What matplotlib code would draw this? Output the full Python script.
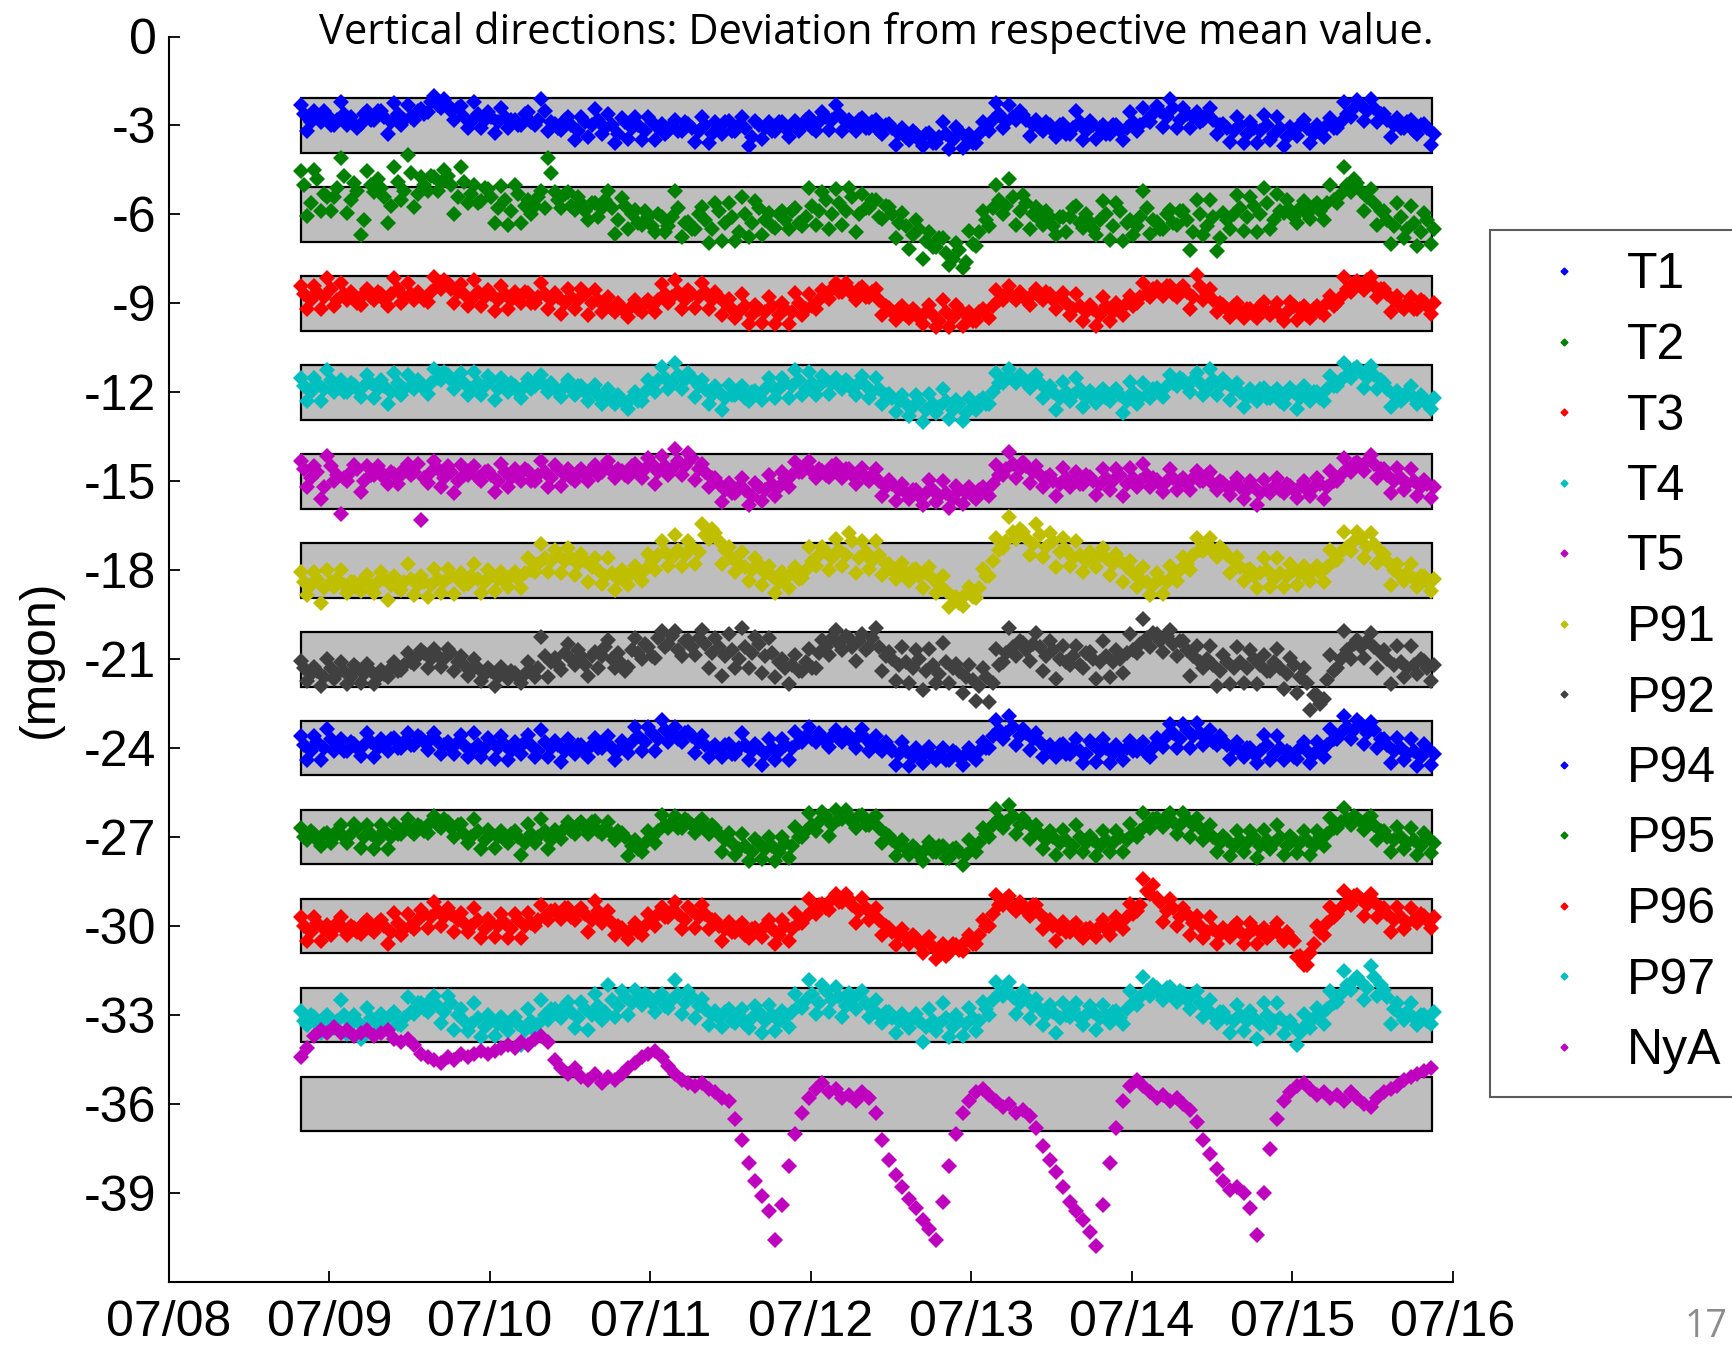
import numpy as np
import matplotlib
matplotlib.use("Agg")
import matplotlib.pyplot as plt
from matplotlib.patches import Rectangle
from matplotlib.lines import Line2D

# ---------------- data (mgon) ----------------
# *_edge: readings on the full hour (points towards the edges of each cloud)
# *_mid : readings on the half hour (points near the middle of each cloud)
start_day = 0.82          # days after 07/08 00:00 of first sample
hours_per_day = 24.0
band_start, band_end = 0.822, 7.87
band_half = 0.92

names = ["T1", "T2", "T3", "T4", "T5", "P91", "P92", "P94", "P95", "P96", "P97", "NyA"]
mean_levels = [-3, -6, -9, -12, -15, -18, -21, -24, -27, -30, -33, -36]
colors = ["#0000FF", "#008000", "#FF0000", "#00BFBF", "#BF00BF", "#BFBF00", "#404040",
          "#0000FF", "#008000", "#FF0000", "#00BFBF", "#BF00BF"]

x_ticks = [0, 1, 2, 3, 4, 5, 6, 7, 8]
x_ticklabels = ["07/08", "07/09", "07/10", "07/11", "07/12", "07/13", "07/14", "07/15", "07/16"]
y_ticks = [0, -3, -6, -9, -12, -15, -18, -21, -24, -27, -30, -33, -36, -39]

T1_edge = [-2.3, -3.2, -2.5, -2.9, -2.65, -3.0, -2.2, -3.0, -2.95, -2.95,
      -2.5, -2.8, -2.5, -3.3, -2.25, -3.0, -2.3, -2.8, -2.45, -2.55,
      -2.0, -2.4, -2.3, -2.8, -2.35, -3.1, -2.2, -3.1, -2.55, -3.25,
      -2.4, -3.1, -2.8, -3.0, -2.55, -3.0, -2.1, -3.2, -2.95, -3.15,
      -2.7, -3.5, -2.7, -3.4, -2.45, -3.3, -2.6, -3.6, -2.75, -3.45,
      -2.7, -3.5, -2.7, -3.5, -2.95, -3.2, -2.8, -3.2, -2.95, -3.55,
      -2.7, -3.6, -2.9, -3.3, -2.85, -3.2, -2.7, -3.7, -2.85, -3.45,
      -2.9, -3.2, -2.9, -3.4, -2.85, -3.0, -2.7, -3.2, -2.55, -3.15,
      -2.3, -3.2, -2.8, -3.2, -2.75, -3.1, -2.8, -3.3, -2.95, -3.65,
      -3.1, -3.5, -3.3, -3.7, -3.25, -3.6, -2.9, -3.8, -3.05, -3.75,
      -3.3, -3.6, -2.9, -3.2, -2.25, -3.1, -2.3, -2.8, -2.65, -3.35,
      -2.8, -3.2, -3.0, -3.4, -2.95, -3.3, -2.5, -3.5, -2.85, -3.45,
      -3.0, -3.3, -3.0, -3.5, -2.55, -3.2, -2.4, -2.9, -2.35, -3.05,
      -2.1, -3.1, -2.4, -3.1, -2.55, -2.8, -2.4, -3.3, -2.95, -3.55,
      -2.7, -3.6, -2.9, -3.6, -2.65, -3.5, -2.7, -3.7, -3.05, -3.35,
      -2.8, -3.6, -3.0, -3.4, -2.75, -3.1, -2.2, -2.7, -2.15, -2.85,
      -2.1, -2.9, -2.6, -3.4, -2.75, -3.1, -2.8, -3.3, -2.95, -3.65]

T1_mid = [-2.6, -2.9, -2.7, -2.5, -3.0, -2.8, -2.6, -2.7, -3.1, -2.6,
      -2.8, -2.5, -2.7, -2.9, -2.6, -2.8, -2.7, -2.5, -2.6, -2.2,
      -2.3, -2.1, -2.5, -2.4, -2.7, -2.9, -2.6, -2.8, -2.7, -2.9,
      -2.7, -2.8, -3.0, -2.6, -2.9, -2.8, -2.5, -2.9, -3.1, -2.8,
      -3.0, -3.2, -2.9, -3.0, -2.8, -3.1, -3.0, -3.3, -2.9, -3.1,
      -3.0, -3.2, -2.9, -3.1, -3.3, -3.0, -3.2, -2.9, -3.1, -3.2,
      -3.0, -3.3, -3.1, -2.9, -3.2, -3.0, -3.1, -3.4, -3.0, -3.1,
      -3.2, -2.9, -3.1, -3.0, -3.2, -2.8, -3.1, -2.9, -2.7, -2.8,
      -2.6, -2.9, -3.0, -2.8, -3.1, -2.9, -3.2, -3.0, -3.1, -3.3,
      -3.4, -3.2, -3.5, -3.3, -3.6, -3.4, -3.3, -3.5, -3.2, -3.4,
      -3.6, -3.3, -3.1, -2.8, -2.6, -2.9, -2.7, -2.5, -2.8, -3.0,
      -3.1, -2.9, -3.2, -3.0, -3.3, -3.1, -2.9, -3.2, -3.0, -3.1,
      -3.3, -3.0, -3.2, -3.1, -2.9, -3.0, -2.8, -2.6, -2.5, -2.7,
      -2.4, -2.8, -2.6, -2.7, -2.9, -2.6, -2.8, -3.0, -3.1, -3.2,
      -3.0, -3.3, -3.1, -3.2, -3.0, -3.3, -3.1, -3.4, -3.2, -3.0,
      -3.1, -3.3, -3.2, -3.0, -3.1, -2.9, -2.6, -2.4, -2.3, -2.5,
      -2.4, -2.6, -2.8, -3.0, -3.1, -2.9, -3.2, -3.0, -3.1, -3.3]

T2_edge = [-4.55, -6.05, -4.5, -5.9, -5.4, -5.4, -4.1, -5.95, -4.95, -6.7,
      -4.55, -5.25, -5.1, -6.3, -4.4, -5.5, -4.0, -5.75, -4.75, -5.2,
      -4.75, -4.95, -4.7, -6.0, -4.4, -5.6, -5.0, -5.55, -5.15, -6.3,
      -5.05, -6.35, -5.0, -6.3, -5.5, -5.7, -5.2, -4.1, -5.25, -5.8,
      -5.25, -5.85, -5.6, -6.2, -5.6, -5.8, -5.2, -6.65, -5.45, -6.5,
      -5.85, -6.35, -6.1, -6.6, -6.1, -6.4, -5.2, -6.75, -6.25, -6.5,
      -5.75, -6.95, -5.6, -6.9, -5.6, -6.9, -5.4, -6.75, -5.55, -6.7,
      -5.95, -6.45, -5.9, -6.5, -5.8, -6.4, -5.1, -6.35, -5.25, -6.5,
      -5.15, -6.35, -5.1, -6.6, -5.3, -5.8, -5.5, -6.15, -5.75, -6.8,
      -5.95, -7.15, -6.2, -7.5, -6.6, -7.1, -6.8, -7.7, -6.95, -7.8,
      -6.55, -7.05, -5.9, -6.4, -5.0, -6.0, -4.8, -6.35, -5.35, -6.5,
      -5.75, -6.35, -6.1, -6.7, -6.1, -6.1, -5.7, -6.45, -6.25, -6.7,
      -5.55, -6.85, -5.6, -6.9, -6.2, -6.4, -5.2, -6.65, -6.25, -6.5,
      -5.85, -6.35, -5.9, -7.2, -5.5, -6.7, -5.5, -7.25, -5.95, -6.5,
      -5.35, -6.55, -5.4, -6.6, -5.1, -6.5, -5.3, -5.95, -5.85, -6.3,
      -5.55, -6.15, -5.6, -6.2, -5.0, -5.6, -4.4, -5.25, -4.95, -5.9,
      -5.15, -6.35, -5.9, -7.0, -5.6, -6.8, -5.7, -7.05, -5.95, -7.0]

T2_mid = [-5.0, -5.6, -4.8, -5.3, -5.9, -5.1, -4.7, -5.5, -5.2, -6.2,
      -5.0, -4.8, -5.4, -5.7, -4.9, -5.2, -4.6, -5.3, -5.0, -4.7,
      -5.2, -4.5, -5.0, -5.4, -4.9, -5.3, -5.6, -5.1, -5.4, -5.8,
      -5.5, -5.9, -5.3, -5.7, -6.0, -5.4, -5.8, -4.6, -5.5, -5.3,
      -5.7, -5.4, -5.9, -5.6, -6.1, -5.5, -5.8, -6.2, -5.7, -6.0,
      -6.3, -5.9, -6.4, -6.0, -6.6, -6.1, -5.8, -6.3, -6.5, -6.0,
      -6.2, -6.5, -5.9, -6.3, -6.1, -6.6, -6.0, -6.3, -5.8, -6.2,
      -6.4, -6.0, -6.2, -5.9, -6.3, -6.1, -5.7, -5.9, -5.5, -6.0,
      -5.6, -5.9, -5.4, -6.0, -5.8, -5.5, -6.1, -5.7, -6.0, -6.3,
      -6.4, -6.7, -6.5, -6.9, -7.1, -6.8, -7.3, -7.5, -7.2, -7.6,
      -7.0, -6.6, -6.2, -5.8, -5.5, -5.7, -5.4, -5.9, -5.6, -6.0,
      -6.2, -5.9, -6.4, -6.1, -6.6, -5.8, -6.3, -6.0, -6.5, -6.2,
      -6.0, -6.4, -5.9, -6.3, -6.7, -6.1, -5.8, -6.2, -6.5, -6.0,
      -6.3, -5.9, -6.2, -6.6, -6.0, -6.4, -6.1, -6.8, -6.2, -6.0,
      -5.8, -6.1, -5.7, -6.0, -5.6, -6.2, -5.9, -5.5, -6.1, -5.8,
      -6.0, -5.7, -5.9, -5.6, -5.5, -5.3, -5.0, -4.8, -5.2, -5.4,
      -5.6, -5.9, -6.2, -6.4, -6.1, -6.5, -6.3, -6.6, -6.2, -6.5]

T3_edge = [-8.4, -9.2, -8.4, -9.2, -8.15, -9.1, -8.3, -8.9, -8.85, -9.05,
      -8.5, -8.9, -8.7, -9.1, -8.15, -9.0, -8.3, -8.9, -8.75, -8.95,
      -8.1, -8.5, -8.3, -9.0, -8.35, -9.1, -8.2, -9.1, -8.55, -9.25,
      -8.4, -9.2, -8.6, -9.0, -8.65, -9.0, -8.3, -9.2, -8.65, -9.35,
      -8.5, -9.2, -8.5, -9.4, -8.55, -9.3, -8.8, -9.3, -9.15, -9.45,
      -8.9, -9.3, -8.9, -9.3, -8.35, -9.0, -8.2, -9.2, -8.55, -9.15,
      -8.3, -9.2, -8.6, -9.4, -8.85, -9.5, -8.7, -9.7, -9.05, -9.65,
      -8.8, -9.7, -9.0, -9.7, -8.65, -9.4, -8.7, -9.2, -8.55, -8.85,
      -8.3, -8.6, -8.5, -8.9, -8.45, -8.8, -8.5, -9.4, -9.15, -9.55,
      -9.1, -9.5, -9.3, -9.7, -9.05, -9.8, -8.9, -9.8, -9.05, -9.75,
      -9.3, -9.6, -9.2, -9.5, -8.55, -8.9, -8.4, -8.9, -8.75, -9.05,
      -8.5, -8.9, -8.7, -9.2, -8.65, -9.4, -8.7, -9.6, -9.05, -9.75,
      -8.8, -9.6, -9.0, -9.4, -8.75, -9.0, -8.3, -8.8, -8.45, -8.75,
      -8.4, -8.8, -8.4, -9.2, -8.05, -8.9, -8.5, -9.3, -9.05, -9.45,
      -9.0, -9.5, -9.2, -9.5, -8.95, -9.4, -9.0, -9.6, -8.95, -9.55,
      -9.1, -9.5, -9.1, -9.4, -8.75, -9.0, -8.1, -8.6, -8.25, -8.55,
      -8.1, -8.8, -8.5, -9.3, -8.75, -9.2, -8.8, -9.2, -8.95, -9.35]

T3_mid = [-8.7, -8.9, -8.6, -8.8, -8.5, -8.9, -8.7, -8.6, -9.0, -8.7,
      -8.8, -8.6, -8.9, -8.7, -8.5, -8.8, -8.7, -8.6, -8.9, -8.6,
      -8.4, -8.2, -8.5, -8.6, -8.7, -8.9, -8.6, -8.8, -8.7, -8.9,
      -8.7, -8.9, -8.8, -8.6, -9.0, -8.8, -8.7, -8.9, -8.8, -9.0,
      -8.8, -8.9, -8.7, -9.0, -8.9, -9.1, -9.2, -9.0, -9.3, -9.1,
      -9.2, -9.0, -9.1, -8.9, -8.7, -8.8, -8.6, -8.9, -8.7, -8.8,
      -8.6, -8.9, -8.8, -9.0, -9.2, -9.3, -9.1, -9.4, -9.2, -9.3,
      -9.1, -9.4, -9.2, -9.3, -9.0, -9.2, -9.1, -8.9, -8.7, -8.5,
      -8.6, -8.3, -8.7, -8.5, -8.8, -8.6, -8.9, -9.1, -9.3, -9.2,
      -9.4, -9.2, -9.5, -9.3, -9.4, -9.6, -9.3, -9.5, -9.2, -9.4,
      -9.6, -9.3, -9.4, -9.1, -8.9, -8.7, -8.8, -8.6, -8.9, -8.7,
      -8.8, -8.6, -8.9, -8.8, -9.0, -9.2, -9.1, -9.3, -9.2, -9.4,
      -9.1, -9.3, -9.2, -9.0, -9.1, -8.8, -8.7, -8.5, -8.6, -8.4,
      -8.7, -8.5, -8.6, -8.8, -8.4, -8.7, -8.9, -9.0, -9.2, -9.1,
      -9.3, -9.2, -9.4, -9.1, -9.3, -9.2, -9.4, -9.3, -9.1, -9.2,
      -9.4, -9.2, -9.3, -9.0, -9.1, -8.8, -8.5, -8.3, -8.4, -8.2,
      -8.4, -8.5, -8.7, -8.9, -9.1, -9.0, -9.2, -8.9, -9.1, -9.0]

T4_edge = [-11.5, -12.3, -11.5, -12.3, -11.25, -12.0, -11.6, -12.0, -11.75, -12.15,
      -11.4, -12.2, -11.6, -12.4, -11.35, -12.1, -11.4, -11.9, -11.75, -12.05,
      -11.2, -11.6, -11.4, -11.9, -11.35, -12.1, -11.3, -12.1, -11.45, -12.25,
      -11.5, -12.0, -11.8, -12.2, -11.55, -11.8, -11.4, -12.0, -11.85, -12.15,
      -11.6, -12.1, -11.8, -12.3, -11.75, -12.4, -11.9, -12.4, -12.25, -12.55,
      -12.0, -12.3, -11.6, -12.0, -11.15, -11.9, -11.0, -11.9, -11.35, -12.15,
      -11.6, -12.4, -11.8, -12.6, -11.75, -12.1, -11.8, -12.3, -11.95, -12.25,
      -11.5, -12.2, -11.5, -12.2, -11.25, -12.1, -11.3, -12.1, -11.45, -12.05,
      -11.5, -11.9, -11.7, -12.1, -11.45, -12.2, -11.5, -12.4, -12.05, -12.65,
      -12.1, -12.8, -12.1, -13.0, -12.05, -12.7, -11.9, -12.9, -12.25, -12.95,
      -12.2, -12.6, -12.2, -12.4, -11.35, -11.7, -11.2, -11.7, -11.55, -11.85,
      -11.4, -12.2, -11.8, -12.6, -11.65, -12.3, -11.5, -12.5, -11.95, -12.35,
      -11.9, -12.3, -11.9, -12.7, -11.65, -12.4, -11.7, -12.2, -11.85, -12.15,
      -11.4, -11.8, -11.6, -12.0, -11.35, -12.1, -11.2, -12.1, -11.55, -12.25,
      -11.7, -12.5, -11.9, -12.3, -11.85, -12.2, -11.9, -12.4, -11.85, -12.55,
      -11.8, -12.3, -12.0, -12.3, -11.45, -11.8, -11.0, -11.5, -11.15, -11.85,
      -11.1, -11.9, -11.7, -12.5, -11.95, -12.2, -11.8, -12.4, -12.25, -12.55]

T4_mid = [-11.8, -12.0, -11.7, -11.9, -11.6, -11.8, -12.0, -11.7, -11.9, -11.8,
      -11.7, -11.9, -11.8, -12.0, -11.7, -11.9, -11.8, -11.6, -11.9, -11.7,
      -11.5, -11.3, -11.6, -11.5, -11.7, -11.9, -11.7, -11.8, -11.6, -11.9,
      -11.8, -11.7, -12.0, -11.8, -11.9, -11.6, -11.8, -11.7, -12.0, -11.8,
      -11.9, -11.8, -12.0, -11.9, -12.1, -12.2, -12.3, -12.1, -12.4, -12.2,
      -12.3, -12.0, -11.8, -11.6, -11.5, -11.7, -11.4, -11.6, -11.5, -11.8,
      -11.9, -12.1, -12.0, -12.2, -12.1, -11.9, -12.2, -12.0, -12.1, -11.9,
      -11.8, -11.9, -11.7, -11.8, -11.6, -11.9, -11.7, -11.8, -11.6, -11.7,
      -11.8, -11.6, -11.9, -11.7, -11.8, -12.0, -11.9, -12.1, -12.2, -12.3,
      -12.4, -12.5, -12.3, -12.6, -12.4, -12.5, -12.3, -12.6, -12.4, -12.7,
      -12.5, -12.3, -12.4, -12.0, -11.7, -11.5, -11.6, -11.4, -11.7, -11.5,
      -11.7, -11.9, -12.0, -12.2, -12.0, -12.1, -11.9, -12.2, -12.1, -12.0,
      -12.2, -12.0, -12.1, -12.3, -12.0, -12.2, -12.1, -11.9, -12.0, -11.8,
      -11.7, -11.5, -11.8, -11.6, -11.7, -11.9, -11.6, -11.8, -11.7, -11.9,
      -12.0, -12.2, -12.1, -11.9, -12.2, -12.0, -12.3, -12.1, -12.0, -12.2,
      -12.1, -12.0, -12.2, -11.9, -11.8, -11.6, -11.4, -11.2, -11.3, -11.5,
      -11.4, -11.6, -11.9, -12.1, -12.3, -12.0, -12.2, -12.1, -12.4, -12.2]

T5_edge = [-14.3, -15.2, -14.5, -15.6, -14.15, -15.0, -16.1, -15.0, -14.45, -15.35,
      -14.5, -14.8, -14.7, -15.1, -14.75, -14.8, -14.4, -14.7, -16.3, -15.05,
      -14.3, -15.2, -14.5, -15.4, -14.45, -14.8, -14.5, -15.0, -14.65, -15.35,
      -14.4, -15.2, -14.6, -15.0, -14.65, -15.0, -14.3, -15.2, -14.45, -15.15,
      -14.6, -15.0, -14.6, -15.0, -14.45, -14.7, -14.3, -14.9, -14.65, -14.85,
      -14.4, -14.9, -14.2, -15.1, -14.15, -14.8, -13.9, -14.8, -14.05, -14.95,
      -14.4, -15.2, -14.9, -15.7, -15.05, -15.4, -14.9, -15.8, -15.05, -15.65,
      -14.8, -15.5, -14.7, -15.2, -14.35, -14.7, -14.3, -14.9, -14.65, -14.85,
      -14.4, -14.9, -14.6, -15.1, -14.55, -15.0, -14.6, -15.5, -14.95, -15.65,
      -15.1, -15.6, -15.3, -15.8, -14.95, -15.7, -15.0, -15.9, -15.15, -15.75,
      -15.2, -15.6, -15.2, -15.5, -14.45, -14.8, -14.0, -14.9, -14.35, -15.05,
      -14.5, -15.2, -14.8, -15.5, -14.55, -15.2, -14.7, -15.1, -14.85, -15.45,
      -14.6, -15.3, -14.6, -15.5, -14.55, -15.2, -14.4, -15.2, -14.95, -15.35,
      -14.6, -15.3, -14.9, -15.3, -14.65, -15.0, -14.7, -15.3, -15.05, -15.45,
      -14.9, -15.6, -15.0, -15.8, -14.95, -15.4, -14.9, -15.4, -15.15, -15.55,
      -15.0, -15.5, -14.9, -15.6, -14.65, -15.0, -14.2, -14.7, -14.35, -14.65,
      -14.1, -14.9, -14.6, -15.4, -14.55, -15.3, -14.6, -15.5, -14.95, -15.55]

T5_mid = [-14.6, -14.9, -14.7, -15.2, -14.5, -14.8, -14.9, -14.7, -14.6, -15.0,
      -14.8, -14.5, -14.9, -14.7, -15.1, -14.6, -14.8, -14.4, -14.9, -14.7,
      -14.6, -14.9, -14.7, -15.0, -14.8, -14.6, -14.9, -14.7, -14.8, -15.0,
      -14.7, -14.9, -14.8, -14.6, -15.0, -14.8, -14.7, -14.9, -14.6, -14.8,
      -14.9, -14.7, -14.8, -14.6, -14.8, -14.5, -14.7, -14.6, -14.8, -14.5,
      -14.7, -14.6, -14.4, -14.7, -14.5, -14.6, -14.3, -14.5, -14.2, -14.6,
      -14.7, -14.9, -15.1, -15.3, -15.4, -15.2, -15.3, -15.5, -15.2, -15.3,
      -15.1, -15.2, -14.9, -14.8, -14.7, -14.5, -14.7, -14.6, -14.8, -14.5,
      -14.7, -14.6, -14.8, -14.7, -14.9, -14.8, -15.0, -15.2, -15.1, -15.3,
      -15.4, -15.3, -15.5, -15.4, -15.3, -15.5, -15.4, -15.6, -15.3, -15.4,
      -15.5, -15.3, -15.4, -15.1, -14.8, -14.6, -14.4, -14.6, -14.5, -14.7,
      -14.8, -14.9, -15.0, -15.1, -14.9, -15.0, -15.1, -14.8, -15.0, -15.1,
      -14.9, -15.0, -14.8, -15.1, -14.9, -15.0, -14.8, -14.9, -15.1, -15.0,
      -14.9, -15.0, -15.1, -14.9, -15.0, -14.8, -15.1, -15.0, -15.2, -15.1,
      -15.2, -15.3, -15.2, -15.4, -15.3, -15.2, -15.3, -15.1, -15.3, -15.2,
      -15.3, -15.2, -15.1, -15.2, -15.0, -14.8, -14.6, -14.4, -14.5, -14.3,
      -14.4, -14.6, -14.8, -15.0, -14.9, -15.1, -15.0, -15.2, -15.1, -15.2]

P91_edge = [-18.05, -18.85, -18.05, -19.1, -18.0, -18.55, -18.0, -18.75, -18.4, -18.7,
       -18.15, -18.75, -18.05, -19.0, -18.2, -18.65, -17.8, -18.85, -18.2, -18.9,
       -17.95, -18.75, -17.95, -18.8, -18.1, -18.45, -17.8, -18.75, -18.0, -18.7,
       -18.05, -18.55, -18.05, -18.6, -17.6, -18.05, -17.1, -18.05, -17.3, -18.1,
       -17.25, -18.15, -17.45, -18.4, -17.6, -18.45, -17.6, -18.65, -18.0, -18.5,
       -17.85, -18.35, -17.45, -18.0, -17.0, -17.85, -16.8, -17.85, -17.0, -17.8,
       -16.45, -16.95, -16.75, -17.8, -17.2, -18.05, -17.4, -18.35, -17.6, -18.5,
       -17.85, -18.75, -18.05, -18.6, -17.9, -18.25, -17.2, -17.85, -17.2, -18.0,
       -16.95, -17.85, -16.75, -18.1, -17.0, -17.95, -17.0, -18.15, -17.8, -18.3,
       -17.75, -18.35, -17.95, -18.6, -17.9, -18.75, -18.2, -19.25, -18.9, -19.2,
       -18.55, -18.95, -17.95, -18.2, -16.9, -17.25, -16.2, -16.95, -16.7, -17.5,
       -16.45, -17.55, -16.75, -17.9, -16.9, -17.85, -17.0, -18.05, -17.4, -17.9,
       -17.25, -18.15, -17.45, -18.4, -17.7, -18.55, -17.9, -18.85, -18.1, -18.8,
       -17.85, -18.35, -17.55, -18.0, -16.9, -17.35, -16.9, -17.55, -17.3, -18.1,
       -17.55, -18.35, -17.95, -18.6, -17.6, -18.55, -17.6, -18.55, -17.8, -18.5,
       -17.85, -18.35, -17.85, -18.4, -17.3, -17.65, -16.7, -17.35, -16.7, -17.6,
       -16.75, -17.75, -17.45, -18.5, -17.8, -18.35, -17.8, -18.55, -18.2, -18.7]

P91_mid = [-18.4, -18.5, -18.3, -18.6, -18.4, -18.3, -18.5, -18.4, -18.6, -18.3,
       -18.5, -18.4, -18.3, -18.5, -18.6, -18.4, -18.3, -18.5, -18.4, -18.5,
       -18.3, -18.4, -18.2, -18.3, -18.5, -18.2, -18.3, -18.4, -18.2, -18.3,
       -18.4, -18.2, -18.3, -18.1, -18.0, -17.8, -17.6, -17.7, -17.5, -17.7,
       -17.6, -17.8, -17.7, -17.9, -18.0, -18.2, -18.1, -18.3, -18.2, -18.1,
       -18.2, -18.0, -17.7, -17.5, -17.4, -17.6, -17.3, -17.5, -17.2, -17.4,
       -16.8, -16.6, -17.0, -17.3, -17.6, -17.8, -17.9, -18.0, -17.8, -18.1,
       -18.2, -18.4, -18.3, -18.1, -18.3, -18.0, -17.7, -17.5, -17.4, -17.6,
       -17.3, -17.5, -17.0, -17.6, -17.4, -17.7, -17.5, -17.8, -18.0, -17.9,
       -18.1, -18.0, -18.2, -18.1, -18.3, -18.5, -18.7, -18.9, -19.1, -18.8,
       -18.9, -18.6, -18.2, -17.7, -17.3, -17.0, -16.7, -16.6, -16.9, -17.1,
       -16.8, -17.2, -17.0, -17.4, -17.3, -17.6, -17.5, -17.7, -17.6, -17.5,
       -17.6, -17.8, -17.7, -17.9, -18.1, -18.3, -18.4, -18.5, -18.3, -18.4,
       -18.2, -18.0, -17.8, -17.5, -17.3, -17.1, -17.4, -17.2, -17.5, -17.7,
       -17.9, -18.0, -18.2, -18.1, -18.0, -18.3, -18.1, -18.2, -18.0, -18.1,
       -18.2, -18.0, -18.1, -17.9, -17.7, -17.4, -17.2, -17.0, -16.9, -17.2,
       -17.1, -17.4, -17.7, -18.0, -18.2, -18.1, -18.3, -18.2, -18.4, -18.3]

P92_edge = [-21.05, -21.75, -21.25, -21.9, -21.0, -21.65, -21.1, -21.85, -21.2, -21.8,
       -21.15, -21.85, -21.35, -21.6, -21.1, -21.35, -20.8, -21.15, -20.7, -21.3,
       -20.65, -21.25, -20.65, -21.4, -20.9, -21.55, -21.0, -21.75, -21.3, -21.9,
       -21.25, -21.65, -21.45, -21.8, -21.1, -21.6, -20.25, -21.6, -20.95, -21.35,
       -20.5, -21.2, -20.9, -21.55, -20.75, -20.9, -20.35, -21.3, -21.15, -21.25,
       -20.3, -21.0, -20.6, -20.95, -20.05, -20.5, -20.05, -20.9, -20.35, -20.85,
       -20.0, -21.3, -20.3, -21.55, -20.15, -21.3, -19.95, -21.3, -20.25, -21.45,
       -20.3, -21.6, -21.0, -21.85, -20.85, -21.4, -20.65, -21.3, -20.35, -20.85,
       -20.0, -20.7, -20.3, -21.05, -20.15, -20.6, -19.95, -21.4, -20.75, -21.75,
       -20.6, -21.8, -20.7, -22.05, -20.65, -21.8, -20.45, -21.8, -21.15, -22.15,
       -21.2, -22.4, -21.3, -22.45, -20.65, -21.1, -19.95, -20.9, -20.45, -21.05,
       -20.1, -21.4, -20.4, -21.65, -20.55, -21.2, -20.55, -21.3, -20.75, -21.65,
       -20.4, -21.6, -20.7, -21.45, -20.15, -20.8, -19.65, -20.6, -20.15, -20.75,
       -20.0, -20.9, -20.4, -21.55, -20.55, -21.3, -20.55, -21.9, -20.85, -21.85,
       -20.6, -21.8, -20.7, -21.85, -20.85, -21.4, -20.65, -22.0, -20.95, -22.15,
       -21.3, -22.7, -22.2, -22.35, -20.85, -21.3, -20.05, -21.0, -20.35, -20.95,
       -20.1, -21.3, -20.7, -21.85, -20.55, -21.6, -20.55, -21.5, -21.05, -21.75]

P92_mid = [-21.3, -21.5, -21.4, -21.6, -21.3, -21.5, -21.4, -21.6, -21.3, -21.5,
       -21.4, -21.6, -21.5, -21.3, -21.4, -21.2, -21.1, -20.9, -20.8, -21.0,
       -20.9, -21.0, -20.8, -21.1, -21.2, -21.4, -21.3, -21.5, -21.4, -21.6,
       -21.5, -21.4, -21.6, -21.5, -21.4, -21.3, -20.9, -21.1, -21.2, -20.8,
       -21.0, -20.7, -21.2, -20.9, -21.3, -20.6, -21.0, -20.8, -21.4, -20.7,
       -20.8, -20.5, -20.9, -20.3, -20.6, -20.2, -20.7, -20.4, -20.6, -20.3,
       -20.5, -20.8, -20.6, -20.9, -20.7, -21.0, -20.6, -20.8, -20.5, -20.9,
       -20.8, -21.1, -21.3, -21.2, -21.4, -21.1, -21.3, -20.8, -20.6, -20.3,
       -20.5, -20.2, -20.6, -20.4, -20.7, -20.3, -20.6, -20.9, -21.0, -21.2,
       -21.1, -21.3, -21.0, -21.4, -21.2, -21.5, -21.1, -21.3, -21.4, -21.6,
       -21.7, -21.9, -21.6, -21.8, -21.2, -20.8, -20.6, -20.4, -20.7, -20.5,
       -20.6, -20.9, -20.7, -21.0, -21.1, -20.9, -21.2, -20.8, -21.0, -21.1,
       -20.9, -21.1, -21.0, -20.8, -20.7, -20.5, -20.3, -20.1, -20.4, -20.2,
       -20.5, -20.4, -20.7, -20.9, -21.1, -21.0, -21.2, -21.4, -21.1, -21.3,
       -21.1, -21.3, -21.0, -21.2, -21.4, -21.1, -21.3, -21.5, -21.2, -21.6,
       -21.8, -22.2, -22.5, -21.7, -21.4, -21.0, -20.7, -20.5, -20.6, -20.4,
       -20.6, -20.8, -21.0, -21.2, -21.1, -21.3, -21.2, -21.0, -21.3, -21.2]

P94_edge = [-23.6, -24.4, -23.6, -24.4, -23.35, -24.1, -23.7, -24.1, -23.85, -24.25,
       -23.5, -24.3, -23.7, -24.1, -23.65, -24.0, -23.5, -23.9, -23.65, -24.05,
       -23.5, -24.2, -23.8, -24.2, -23.55, -24.3, -23.5, -24.3, -23.65, -24.35,
       -23.6, -24.4, -23.8, -24.2, -23.55, -24.3, -23.4, -24.3, -23.75, -24.45,
       -23.7, -24.2, -23.9, -24.3, -23.65, -24.0, -23.6, -24.4, -23.75, -24.15,
       -23.3, -24.1, -23.3, -24.1, -23.05, -23.8, -23.3, -23.8, -23.45, -24.15,
       -23.6, -24.3, -23.9, -24.3, -23.85, -24.2, -23.5, -24.4, -23.85, -24.55,
       -23.7, -24.4, -23.7, -24.4, -23.45, -23.8, -23.3, -23.8, -23.65, -23.95,
       -23.4, -23.8, -23.6, -24.0, -23.35, -24.1, -23.6, -24.1, -23.95, -24.55,
       -23.8, -24.6, -24.0, -24.5, -23.95, -24.4, -24.0, -24.4, -24.15, -24.55,
       -24.0, -24.4, -23.8, -24.0, -23.05, -23.7, -22.9, -23.9, -23.35, -24.05,
       -23.5, -24.3, -23.9, -24.3, -23.85, -24.2, -23.7, -24.5, -23.75, -24.45,
       -23.7, -24.5, -23.9, -24.4, -23.75, -24.1, -23.8, -24.3, -23.65, -23.95,
       -23.2, -24.0, -23.2, -24.0, -23.15, -23.9, -23.4, -23.9, -23.75, -24.35,
       -23.8, -24.3, -24.0, -24.5, -23.55, -24.4, -23.6, -24.4, -24.15, -24.35,
       -23.8, -24.5, -23.8, -24.3, -23.35, -23.7, -22.9, -23.7, -23.05, -23.85,
       -23.1, -24.0, -23.7, -24.5, -23.65, -24.4, -23.7, -24.6, -23.85, -24.55]

P94_mid = [-23.9, -24.1, -23.8, -24.0, -23.7, -23.9, -24.1, -23.8, -24.0, -23.9,
       -23.8, -24.0, -23.9, -23.7, -24.0, -23.8, -23.9, -23.6, -23.8, -23.7,
       -23.8, -23.9, -24.0, -23.8, -23.9, -24.1, -23.9, -24.0, -23.8, -24.0,
       -23.9, -24.1, -24.0, -23.8, -23.9, -24.1, -23.8, -24.0, -23.9, -24.1,
       -24.0, -23.9, -24.1, -23.9, -24.0, -23.8, -24.0, -24.1, -23.9, -23.8,
       -23.6, -23.8, -23.5, -23.7, -23.4, -23.6, -23.7, -23.5, -23.6, -23.8,
       -23.9, -24.0, -24.1, -23.9, -24.2, -24.0, -23.9, -24.1, -24.0, -24.2,
       -24.0, -24.1, -23.9, -24.0, -23.8, -23.6, -23.7, -23.5, -23.8, -23.6,
       -23.7, -23.5, -23.8, -23.6, -23.7, -23.9, -24.0, -23.8, -24.1, -24.2,
       -24.1, -24.3, -24.2, -24.1, -24.3, -24.2, -24.4, -24.1, -24.3, -24.2,
       -24.3, -24.1, -24.0, -23.6, -23.4, -23.5, -23.3, -23.6, -23.5, -23.7,
       -23.8, -24.0, -24.1, -23.9, -24.2, -24.0, -24.1, -24.2, -23.9, -24.1,
       -24.0, -24.2, -24.1, -24.0, -24.1, -23.9, -24.2, -24.0, -23.8, -23.6,
       -23.5, -23.7, -23.4, -23.6, -23.5, -23.7, -23.8, -23.6, -23.9, -24.0,
       -24.1, -24.0, -24.2, -24.1, -23.9, -24.2, -24.0, -24.1, -24.3, -24.0,
       -24.1, -24.2, -24.0, -23.9, -23.7, -23.5, -23.3, -23.4, -23.2, -23.5,
       -23.4, -23.7, -23.9, -24.1, -24.0, -24.2, -24.1, -24.3, -24.0, -24.2]

P95_edge = [-26.7, -27.1, -26.9, -27.3, -26.85, -27.0, -26.6, -27.2, -26.55, -27.35,
       -26.6, -27.4, -26.6, -27.4, -26.55, -26.9, -26.4, -26.9, -26.65, -26.85,
       -26.3, -26.7, -26.5, -27.0, -26.55, -27.2, -26.4, -27.4, -26.75, -27.35,
       -26.8, -27.2, -26.8, -27.6, -26.55, -27.2, -26.4, -27.4, -26.75, -27.05,
       -26.5, -26.9, -26.5, -26.9, -26.45, -26.9, -26.5, -27.1, -26.85, -27.65,
       -27.1, -27.5, -26.8, -27.2, -26.25, -26.7, -26.3, -26.7, -26.45, -26.85,
       -26.4, -26.9, -26.7, -27.5, -26.85, -27.6, -26.9, -27.8, -27.05, -27.75,
       -27.0, -27.8, -27.0, -27.7, -26.65, -27.0, -26.2, -26.8, -26.15, -26.95,
       -26.1, -26.4, -26.3, -26.7, -26.25, -26.6, -26.3, -27.2, -26.95, -27.65,
       -27.1, -27.6, -27.4, -27.8, -27.15, -27.5, -27.3, -27.7, -27.35, -27.95,
       -27.1, -27.5, -26.7, -27.0, -26.05, -26.7, -25.9, -26.9, -26.35, -27.05,
       -26.6, -27.4, -26.8, -27.6, -26.75, -27.5, -26.6, -27.5, -26.95, -27.65,
       -26.8, -27.5, -26.8, -27.5, -26.55, -27.0, -26.2, -26.7, -26.35, -26.65,
       -26.2, -26.9, -26.2, -27.0, -26.35, -27.1, -26.6, -27.5, -26.95, -27.65,
       -26.8, -27.5, -26.8, -27.7, -26.75, -27.4, -26.6, -27.6, -26.95, -27.55,
       -26.8, -27.6, -26.8, -27.3, -26.35, -26.7, -26.0, -26.6, -26.35, -26.75,
       -26.3, -27.1, -26.8, -27.5, -26.65, -27.4, -26.7, -27.6, -26.85, -27.55]

P95_mid = [-27.0, -26.8, -27.1, -26.9, -27.2, -26.8, -27.0, -26.9, -26.7, -27.0,
       -26.9, -27.1, -26.8, -27.0, -26.9, -26.7, -26.8, -26.6, -26.8, -26.5,
       -26.6, -26.4, -26.7, -26.6, -26.9, -27.0, -26.8, -27.1, -26.9, -27.0,
       -27.1, -26.9, -27.0, -27.2, -26.9, -27.0, -26.8, -27.1, -26.9, -26.7,
       -26.8, -26.6, -26.7, -26.5, -26.8, -26.7, -26.9, -26.8, -27.0, -27.3,
       -27.4, -27.2, -27.0, -26.8, -26.6, -26.5, -26.7, -26.4, -26.6, -26.5,
       -26.7, -26.6, -26.9, -27.1, -27.2, -27.4, -27.3, -27.5, -27.2, -27.4,
       -27.3, -27.5, -27.2, -27.3, -27.0, -26.8, -26.6, -26.5, -26.3, -26.6,
       -26.4, -26.1, -26.5, -26.3, -26.6, -26.4, -26.7, -26.9, -27.1, -27.3,
       -27.4, -27.3, -27.6, -27.4, -27.5, -27.3, -27.7, -27.4, -27.5, -27.6,
       -27.4, -27.2, -26.9, -26.6, -26.4, -26.5, -26.3, -26.6, -26.5, -26.7,
       -26.9, -27.1, -27.0, -27.2, -27.1, -27.3, -27.0, -27.2, -27.1, -27.3,
       -27.1, -27.2, -27.0, -27.1, -26.9, -26.8, -26.6, -26.4, -26.5, -26.3,
       -26.5, -26.6, -26.4, -26.6, -26.7, -26.9, -27.0, -27.2, -27.1, -27.3,
       -27.1, -27.2, -27.0, -27.3, -27.1, -27.2, -27.0, -27.3, -27.1, -27.2,
       -27.1, -27.3, -27.0, -26.9, -26.7, -26.5, -26.4, -26.3, -26.5, -26.4,
       -26.6, -26.8, -27.0, -27.1, -27.0, -27.2, -27.1, -27.3, -27.0, -27.2]

P96_edge = [-29.7, -30.5, -29.7, -30.5, -29.95, -30.1, -29.7, -30.3, -30.05, -30.25,
       -29.8, -30.2, -29.8, -30.6, -29.55, -30.3, -29.6, -30.1, -29.45, -30.05,
       -29.2, -30.0, -29.4, -30.2, -29.55, -30.2, -29.4, -30.4, -29.75, -30.35,
       -29.6, -30.4, -29.6, -30.4, -29.55, -30.0, -29.3, -29.8, -29.45, -29.75,
       -29.4, -29.8, -29.4, -30.2, -29.15, -29.9, -29.5, -30.3, -30.05, -30.45,
       -29.9, -30.3, -29.6, -30.0, -29.35, -29.7, -29.2, -30.1, -29.35, -30.05,
       -29.3, -30.1, -29.8, -30.5, -29.85, -30.2, -29.9, -30.4, -30.05, -30.35,
       -29.8, -30.6, -29.8, -30.5, -29.55, -29.9, -29.1, -29.6, -29.25, -29.45,
       -28.9, -29.2, -29.1, -29.9, -29.05, -29.8, -29.4, -30.3, -30.05, -30.65,
       -30.1, -30.6, -30.4, -30.9, -30.35, -31.1, -30.6, -30.9, -30.65, -30.85,
       -30.3, -30.6, -29.8, -30.0, -28.95, -29.3, -29.0, -29.5, -29.35, -29.65,
       -29.3, -30.1, -29.8, -30.5, -29.85, -30.2, -29.9, -30.4, -30.05, -30.35,
       -29.8, -30.3, -29.7, -30.1, -29.25, -29.5, -28.4, -28.9, -29.05, -29.85,
       -29.1, -30.0, -29.4, -30.3, -29.65, -30.4, -29.7, -30.6, -30.05, -30.35,
       -29.9, -30.6, -29.9, -30.6, -30.05, -30.3, -29.9, -30.5, -30.35, -31.05,
       -31.3, -30.9, -30.0, -30.3, -29.35, -29.6, -28.8, -29.3, -28.95, -29.65,
       -28.9, -29.7, -29.4, -30.2, -29.35, -30.1, -29.4, -29.9, -29.65, -30.05]

P96_mid = [-30.0, -30.2, -29.9, -30.1, -30.3, -29.9, -30.1, -30.0, -30.2, -29.9,
       -30.1, -29.9, -30.0, -30.2, -29.9, -30.1, -30.0, -29.8, -29.6, -29.7,
       -29.5, -29.7, -29.6, -29.8, -29.9, -30.0, -29.8, -30.1, -29.9, -30.0,
       -29.9, -30.1, -29.8, -30.0, -29.9, -29.8, -29.7, -29.5, -29.6, -29.4,
       -29.7, -29.5, -29.6, -29.8, -29.5, -29.7, -29.9, -30.0, -30.2, -30.1,
       -30.2, -30.0, -29.8, -29.6, -29.7, -29.5, -29.6, -29.8, -29.5, -29.7,
       -29.6, -29.8, -30.0, -30.1, -30.2, -30.0, -30.3, -30.1, -30.2, -30.0,
       -30.1, -30.3, -30.0, -30.1, -29.9, -29.7, -29.5, -29.3, -29.4, -29.1,
       -29.2, -28.9, -29.3, -29.5, -29.4, -29.6, -29.8, -30.0, -30.2, -30.3,
       -30.4, -30.3, -30.6, -30.5, -30.7, -30.9, -31.0, -30.6, -30.8, -30.5,
       -30.6, -30.3, -30.0, -29.6, -29.3, -29.1, -29.4, -29.2, -29.5, -29.3,
       -29.6, -29.8, -30.0, -30.1, -30.2, -30.0, -30.3, -30.1, -30.2, -30.0,
       -30.1, -30.0, -29.9, -29.7, -29.6, -29.3, -28.8, -28.6, -29.2, -29.5,
       -29.4, -29.7, -29.6, -29.9, -30.0, -30.2, -30.1, -30.3, -30.2, -30.0,
       -30.2, -30.3, -30.1, -30.2, -30.4, -30.1, -30.3, -30.2, -30.5, -31.0,
       -31.3, -30.6, -30.2, -29.9, -29.7, -29.4, -29.2, -29.0, -29.1, -29.3,
       -29.2, -29.4, -29.6, -29.8, -29.7, -29.9, -29.8, -29.6, -29.8, -29.7]

P97_edge = [-32.85, -33.35, -33.05, -33.6, -33.0, -33.45, -32.5, -33.65, -33.0, -33.8,
       -32.75, -33.65, -32.95, -33.5, -32.9, -33.35, -32.4, -32.95, -32.6, -32.9,
       -32.35, -33.25, -32.35, -33.5, -32.8, -33.55, -32.6, -33.75, -33.0, -33.7,
       -33.05, -33.55, -33.05, -34.0, -32.8, -33.55, -32.5, -33.15, -32.8, -33.1,
       -32.55, -33.45, -32.55, -33.5, -32.3, -33.15, -32.0, -33.05, -32.2, -33.0,
       -32.15, -32.65, -32.35, -32.9, -32.3, -32.75, -31.8, -32.95, -32.2, -33.1,
       -32.45, -33.35, -32.85, -33.4, -32.8, -33.25, -32.8, -33.45, -32.7, -33.6,
       -32.65, -33.55, -32.85, -33.4, -32.3, -32.75, -31.8, -32.95, -32.0, -32.9,
       -32.05, -33.05, -32.25, -32.8, -32.2, -33.05, -32.5, -33.25, -32.9, -33.6,
       -32.95, -33.45, -32.95, -33.9, -32.8, -33.55, -32.6, -33.75, -33.0, -33.7,
       -32.75, -33.55, -32.55, -33.0, -31.9, -32.35, -31.9, -32.95, -32.2, -33.1,
       -32.45, -33.35, -32.65, -33.6, -32.6, -33.05, -32.6, -33.35, -32.7, -33.5,
       -32.65, -33.25, -32.85, -33.3, -32.2, -32.65, -31.7, -32.35, -32.1, -32.5,
       -32.05, -32.55, -32.25, -32.8, -32.2, -33.05, -32.5, -33.25, -32.9, -33.6,
       -32.65, -33.55, -32.85, -33.8, -32.6, -33.45, -32.6, -33.65, -33.2, -34.0,
       -32.95, -33.45, -32.75, -33.3, -32.2, -32.55, -31.5, -32.15, -31.7, -32.5,
       -31.35, -32.35, -32.15, -33.3, -32.6, -33.15, -32.6, -33.35, -33.0, -33.3]

P97_mid = [-33.2, -33.0, -33.3, -33.1, -33.4, -33.2, -33.0, -33.3, -33.2, -33.4,
       -33.1, -33.3, -33.2, -33.0, -33.3, -33.1, -32.9, -32.6, -32.8, -32.5,
       -32.7, -32.9, -32.6, -33.0, -33.2, -33.3, -33.1, -33.4, -33.2, -33.3,
       -33.4, -33.2, -33.3, -33.5, -33.2, -33.3, -33.0, -32.8, -33.0, -32.7,
       -32.9, -33.1, -32.8, -33.0, -32.7, -32.9, -32.5, -32.7, -32.4, -32.6,
       -32.5, -32.3, -32.6, -32.4, -32.7, -32.5, -32.3, -32.6, -32.4, -32.7,
       -32.8, -33.0, -33.1, -32.9, -33.2, -33.0, -33.3, -33.1, -32.9, -33.2,
       -33.0, -33.2, -33.1, -32.9, -32.7, -32.5, -32.3, -32.6, -32.2, -32.5,
       -32.4, -32.7, -32.5, -32.3, -32.6, -32.8, -33.0, -32.9, -33.1, -33.2,
       -33.3, -33.1, -33.2, -33.4, -33.2, -33.3, -33.1, -33.4, -33.2, -33.3,
       -33.1, -33.2, -32.8, -32.5, -32.3, -32.1, -32.4, -32.6, -32.4, -32.7,
       -32.8, -33.0, -32.9, -33.1, -33.0, -32.8, -33.1, -33.0, -32.9, -33.1,
       -33.0, -32.9, -33.1, -32.8, -32.6, -32.4, -32.2, -32.0, -32.3, -32.1,
       -32.4, -32.2, -32.5, -32.3, -32.6, -32.8, -33.0, -32.9, -33.1, -33.2,
       -33.0, -33.2, -33.1, -33.3, -33.0, -33.2, -33.1, -33.3, -33.4, -33.6,
       -33.3, -33.1, -33.0, -32.8, -32.6, -32.3, -32.0, -31.8, -31.9, -32.1,
       -31.7, -32.0, -32.4, -32.8, -33.0, -32.9, -33.1, -33.0, -33.2, -32.9]

NyA_edge = [-34.4, -34.1, -33.7, -33.5, -33.6, -33.4, -33.6, -33.5, -33.7, -33.6,
       -33.5, -33.7, -33.6, -33.5, -33.8, -33.9, -33.8, -34.0, -34.3, -34.4,
       -34.5, -34.6, -34.4, -34.5, -34.3, -34.4, -34.3, -34.2, -34.3, -34.2,
       -34.1, -34.0, -34.1, -33.9, -34.0, -33.8, -33.7, -33.9, -34.5, -34.8,
       -35.0, -34.8, -35.1, -35.2, -35.0, -35.3, -35.1, -35.2, -35.0, -34.8,
       -34.6, -34.4, -34.3, -34.2, -34.4, -34.7, -35.0, -35.2, -35.3, -35.4,
       -35.3, -35.5, -35.6, -35.8, -35.9, -36.5, -37.2, -38.0, -38.6, -39.1,
       -39.6, -40.6, -39.4, -38.1, -37.0, -36.3, -35.8, -35.5, -35.3, -35.6,
       -35.5, -35.8, -35.7, -35.9, -35.6, -35.8, -36.3, -37.2, -37.9, -38.4,
       -38.8, -39.2, -39.5, -39.9, -40.2, -40.6, -39.3, -38.1, -37.0, -36.3,
       -35.9, -35.6, -35.5, -35.7, -35.9, -36.1, -36.0, -36.3, -36.2, -36.4,
       -36.8, -37.4, -37.9, -38.3, -38.8, -39.3, -39.6, -39.9, -40.3, -40.8,
       -39.4, -38.0, -36.8, -35.9, -35.4, -35.2, -35.4, -35.6, -35.8, -35.7,
       -35.9, -35.8, -36.0, -36.2, -36.6, -37.2, -37.7, -38.2, -38.6, -38.9,
       -38.8, -39.0, -39.5, -40.4, -39.0, -37.5, -36.5, -35.9, -35.6, -35.4,
       -35.3, -35.5, -35.7, -35.6, -35.8, -35.7, -35.9, -35.6, -35.8, -36.0,
       -36.1, -35.8, -35.6, -35.5, -35.4, -35.2, -35.1, -35.0, -34.9, -34.8]

NyA_mid = []   # NyA cloud is thin: the hourly readings are enough

edge_series = [T1_edge, T2_edge, T3_edge, T4_edge, T5_edge, P91_edge, P92_edge,
               P94_edge, P95_edge, P96_edge, P97_edge, NyA_edge]
mid_series = [T1_mid, T2_mid, T3_mid, T4_mid, T5_mid, P91_mid, P92_mid,
              P94_mid, P95_mid, P96_mid, P97_mid, NyA_mid]

# ---------------- figure ----------------
W, H = 1733, 1347
fig = plt.figure(figsize=(W / 100, H / 100), dpi=100)
fig.patch.set_facecolor("white")

ax_l, ax_r, ax_t, ax_b = 169, 1453, 36.5, 1282
ax = fig.add_axes([ax_l / W, 1 - ax_b / H, (ax_r - ax_l) / W, (ax_b - ax_t) / H])

tick_font = "Liberation Sans"
fs = 36

# gray bands around the mean levels
for lvl in mean_levels:
    ax.add_patch(Rectangle((band_start, lvl - band_half), band_end - band_start, 2 * band_half,
                           facecolor="#BEBEBE", edgecolor="black", linewidth=1.6, zorder=1))

for name, e_vals, m_vals, col in zip(names, edge_series, mid_series, colors):
    t_e = start_day + np.arange(len(e_vals)) / hours_per_day
    t_m = start_day + (np.arange(len(m_vals)) + 0.5) / hours_per_day
    t = np.concatenate([t_e, t_m])
    v = np.concatenate([np.asarray(e_vals, float), np.asarray(m_vals, float)])
    ax.plot(t, v, linestyle="none", marker="D", markersize=8, markeredgewidth=0,
            markerfacecolor=col, markeredgecolor=col, zorder=3, label=name)

ax.set_xlim(0, 8)
ax.set_ylim(-42, 0)
ax.set_xticks(x_ticks)
ax.set_xticklabels(x_ticklabels, fontfamily=tick_font, fontsize=fs)
ax.set_yticks(y_ticks)
ax.set_yticklabels([str(v) for v in y_ticks], fontfamily=tick_font, fontsize=fs)
ax.tick_params(axis="both", direction="in", length=8, width=1.3, color="black")
ax.tick_params(axis="y", pad=9)
ax.tick_params(axis="x", pad=13)
for s in ["top", "right"]:
    ax.spines[s].set_visible(False)
for s in ["left", "bottom"]:
    ax.spines[s].set_linewidth(1.5)
ax.set_facecolor("white")

fig.text(40 / W, 1 - 659 / H, "(mgon)", rotation=90, ha="center", va="center",
         fontfamily=tick_font, fontsize=fs)

fig.text(876 / W, 1 - 33 / H, "Vertical directions: Deviation from respective mean value.",
         ha="center", va="center", fontfamily="Open Sans", fontsize=30)

fig.text(1727 / W, 1 - 1327 / H, "17", ha="right", va="center",
         fontfamily="Open Sans", fontsize=27, color="#8C8C8C")

handles = [Line2D([], [], linestyle="none", marker="D", markersize=3.5,
                  markerfacecolor=c, markeredgecolor=c) for c in colors]
leg = fig.legend(handles, names, loc="upper left", bbox_to_anchor=(1490 / W, 1 - 230 / H),
                 prop={"family": tick_font, "size": fs}, frameon=True, fancybox=False,
                 borderpad=0.45, handlelength=2.04, handletextpad=0.24, labelspacing=0.49,
                 borderaxespad=0.0)
leg.get_frame().set_edgecolor("#333333")
leg.get_frame().set_linewidth(1.5)

fig.savefig("out.png", dpi=100, facecolor="white")
